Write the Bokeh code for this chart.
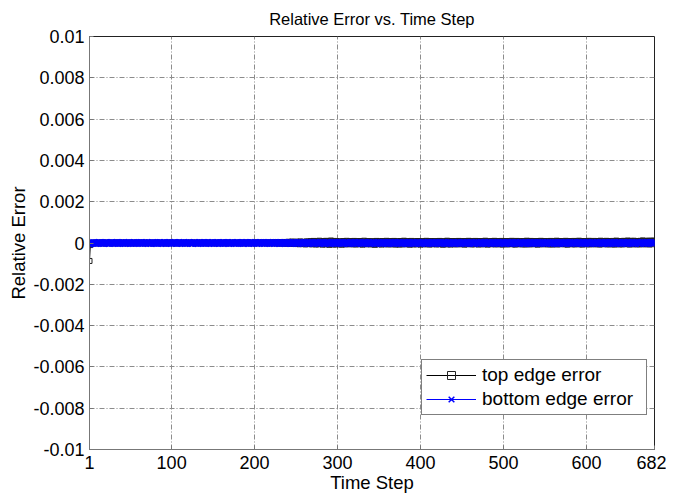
from bokeh.plotting import figure
from bokeh.models import Range1d, FixedTicker, CustomJSTickFormatter, Legend, LegendItem
from bokeh.embed import file_html
from bokeh.resources import INLINE

# ---- data: top edge error (units of 5e-6), bottom edge error (units of 1e-5) ----
top_edge = [
    -174, -20, -4, 2, -3, 1, -2, 3, 0, -1, 2, -3, 1, 4, -2, 0, 3, -1, 2, -4,
    1, 3, -2, 0, 4, -1, 2, -3, 1, 0, -2, 3, 5, -1, 0, 2, -3, 1, -2, 4,
    0, -1, 3, -2, 1, 2, -4, 0, 3, -1, 2, 0, -3, 1, 4, -2, 1, 0, -1, 3,
    -2, 1, 0, 3, -1, 2, -3, 4, 0, -2, 1, 3, -1, 0, 2, -4, 1, 3, -2, 0,
    2, -1, 4, 0, -3, 1, 2, -2, 0, 3, -1, 1, -4, 2, 0, 3, -2, 1, 4, -1,
    0, 2, -3, 1, 3, -2, 0, 4, -1, 2, -3, 0, 1, 3, -2, 2, 0, -1, 4, -3,
    1, 0, 3, -2, 2, -1, 4, 0, -3, 1, 2, -2, 3, 0, -1, 4, -2, 1, 0, 3,
    -1, 2, -3, 1, 4, 0, -2, 3, 1, -1, 0, 2, -4, 3, 1, -2, 0, 4, -1, 2,
    -3, 0, 2, 1, -2, 4, 0, -1, 3, -3, 1, 2, 0, -2, 4, 1, -1, 3, 0, -2,
    2, -1, 4, 0, -3, 2, 1, -2, 3, 0, -1, 5, -2, 1, 3, -4, 0, 2, -1, 4,
    1, -3, 2, 0, 5, -2, 3, -1, 0, 4, -3, 2, 1, -2, 6, 0, -4, 3, 1, -1,
    5, -3, 2, 7, -2, 0, 6, -5, 3, 8, -4, 2, 9, -6, 4, 10, -3, 7, -8, 5,
    12, -6, 8, -9, 14, -4, 6, 11, -10, 5, 13, -7, 9, -12, 15, -5, 8, 12, -9, 6,
    -14, 10, 16, -8, 13, -11, 7, 18, -13, 11, 20, -9, 14, -15, 17, 9, -12, 22, -7, 15,
    11, -16, 19, 8, -13, 21, -10, 14, 17, -18, 12, 24, -11, 16, -14, 20, 9, -15, 18, -9,
    13, -12, 16, 10, -17, 14, 19, -8, 12, -14, 21, 11, -10, 15, 18, -13, 9, 16, -11, 20,
    12, -15, 17, 10, -9, 14, 19, -12, 13, -16, 15, 22, -10, 11, -13, 18, 14, -9, 16, -14,
    10, 17, -11, 15, -18, 12, 20, -9, 14, -12, 16, 11, -15, 19, 13, -10, 17, -13, 21, 9,
    -12, 15, 18, -14, 11, 16, -9, 20, 12, -16, 14, 17, -11, 13, -15, 19, 10, -12, 16, 22,
    -13, 11, 18, -10, 15, 12, -17, 14, 20, -9, 13, -14, 16, 11, -12, 19, 15, -11, 17, -16,
    12, 18, -10, 14, -13, 16, 21, -11, 13, 17, -15, 10, 19, -12, 15, -9, 14, 18, -14, 11,
    16, -12, 20, 13, -10, 15, -17, 12, 18, -11, 14, 22, -13, 10, 17, -15, 13, 19, -9, 16,
    -14, 12, 18, -11, 15, 20, -13, 11, 16, -10, 14, 19, -16, 12, 17, -12, 15, 21, -10, 13,
    18, -14, 11, 16, -12, 20, 14, -9, 17, -15, 13, 19, -11, 15, 12, -13, 18, 22, -10, 14,
    -16, 11, 17, 13, -12, 19, -10, 15, 21, -14, 12, 16, -11, 18, 14, -13, 10, 20, -15, 17,
    12, -11, 19, 15, -14, 13, 18, -10, 16, 21, -12, 11, 17, -16, 14, 20, -9, 13, 18, -13,
    15, 11, -12, 19, 14, -15, 17, 22, -11, 12, 16, -14, 20, 13, -10, 18, 15, -12, 11, 19,
    -16, 14, 17, -11, 21, 12, -13, 16, 19, -10, 15, 13, -14, 18, 11, -12, 20, 16, -15, 14,
    17, -11, 13, 22, -14, 15, 19, -12, 12, 16, -10, 18, 14, -13, 21, 11, -16, 17, 15, -11,
    19, 13, -12, 16, 20, -14, 11, 18, -10, 15, 22, -13, 12, 17, -15, 14, 19, -11, 16, 13,
    -12, 18, 21, -14, 15, 12, -10, 17, 20, -13, 14, 16, -11, 19, 13, -15, 22, 12, -12, 18,
    15, -10, 17, 21, -14, 13, 19, -12, 16, 11, -13, 20, 14, -15, 18, 23, -11, 15, 17, -13,
    12, 19, -14, 16, 21, -10, 14, 18, -12, 24, 13, -15, 17, 20, -11, 15, 22, -13, 18, 14,
    -12, 19, 16, -14, 21, 13, -10, 25, 17, -13, 15, 20, -11, 18, 23, -14, 16, 21, -12, 19,
    24, 14,
]

bottom_edge = [
    -5, -2, 1, 0, -1, 2, 0, 1, -2, 0, 1, -1, 2, 0, -1, 1, 0, -2, 1, 0,
    2, -1, 0, 1, -2, 0, 1, 2, -1, 0, -1, 1, 0, 2, -2, 1, 0, -1, 1, 0,
    -1, 2, 0, -2, 1, 0, 1, -1, 2, 0, -1, 0, 1, -2, 2, 0, -1, 1, 0, 1,
    0, -1, 2, 1, -2, 0, 1, 0, -1, 2, 0, -1, 1, 0, -2, 1, 2, 0, -1, 0,
    1, 0, -2, 1, 0, 2, -1, 0, 1, -1, 2, 0, -2, 1, 0, 1, -1, 2, 0, -1,
    0, 1, -1, 2, 0, -2, 1, 0, 2, -1, 0, 1, -1, 0, 2, -2, 1, 0, -1, 1,
    2, 0, -1, 1, -2, 0, 2, 1, -1, 0, 1, -2, 0, 2, -1, 1, 0, -1, 2, 0,
    -2, 1, 0, 2, -1, 0, 1, -1, 2, 0, -2, 1, 0, 1, -1, 2, 0, -1, 0, 1,
    1, -2, 2, 0, -1, 1, 0, 2, -2, 0, 1, -1, 2, 0, -1, 0, 1, -2, 1, 2,
    0, -1, 1, 0, 2, -2, 0, 1, -1, 2, 0, 1, -2, 0, 2, -1, 1, 0, -1, 1,
    2, 0, -2, 1, 0, -1, 2, 1, -1, 0, 2, -2, 0, 1, -1, 2, 0, -1, 1, 0,
    -1, 2, 0, -2, 1, 2, -1, 0, 1, -2, 2, 0, -1, 1, 0, 2, -2, 1, 0, -1,
    2, 0, 1, -2, 0, 2, -1, 1, 0, -1, 2, -2, 0, 1, 2, -1, 0, 1, -2, 2,
    0, -1, 1, 2, -2, 0, 1, -1, 2, 0, -2, 1, 0, 2, -1, 1, 0, -2, 2, 0,
    1, -1, 2, 0, -2, 1, 0, 2, -1, 1, -2, 0, 2, 1, -1, 0, 2, -2, 1, 0,
    -1, 2, 0, 1, -2, 2, 0, -1, 1, 0, 2, -1, 0, -2, 1, 2, 0, -1, 1, 0,
    2, -2, 0, 1, -1, 2, 0, 1, -2, 0, 1, -1, 2, 0, -1, 1, 0, 2, -2, 1,
    0, -1, 2, 1, -2, 0, 1, -1, 0, 2, -1, 1, 0, -2, 2, 0, 1, -1, 0, 2,
    -2, 1, 0, 2, -1, 0, 1, -2, 2, 0, -1, 1, 0, 2, -1, 0, 1, -2, 1, 0,
    2, -1, 0, 1, -2, 2, 0, -1, 1, 0, 2, -2, 1, 0, -1, 2, 0, 1, -1, 0,
    -2, 1, 2, 0, -1, 1, 0, -2, 2, 0, 1, -1, 0, 2, -2, 1, 0, -1, 2, 0,
    1, -1, 0, 2, -2, 0, 1, 2, -1, 0, 1, -2, 0, 2, -1, 1, 0, -1, 2, 0,
    -2, 1, 0, 1, -1, 2, 0, -2, 1, 0, 2, -1, 1, 0, -2, 2, 0, 1, -1, 0,
    2, 0, -1, 1, -2, 0, 2, 1, -1, 0, 1, -2, 2, 0, -1, 1, 0, 2, -2, 0,
    1, -1, 2, 0, -2, 1, 0, 2, -1, 0, 1, -1, 2, 0, -2, 1, 0, 1, -1, 2,
    0, -2, 1, 0, 2, -1, 1, 0, -2, 2, 0, 1, -1, 0, 2, -2, 1, 0, -1, 1,
    2, 0, -1, 1, 0, -2, 2, 0, 1, -1, 0, 2, -2, 1, 0, -1, 2, 0, 1, -1,
    0, 2, -2, 1, 0, -1, 2, 0, -1, 1, 0, -2, 2, 1, -1, 0, 1, -2, 0, 2,
    -1, 1, 0, 2, -2, 0, 1, -1, 2, 0, -1, 1, 0, -2, 2, 0, 1, -1, 0, 2,
    -2, 1, 0, 1, -1, 2, 0, -2, 1, 0, 2, -1, 0, 1, -2, 2, 0, -1, 1, 0,
    2, -1, 1, 0, -2, 0, 2, 1, -1, 0, 1, -2, 2, 0, -1, 1, 0, 2, -2, 1,
    0, -1, 2, 0, 1, -2, 0, 2, -1, 1, 0, -1, 2, 0, -2, 1, 0, 1, -1, 2,
    0, -2, 1, 0, 2, -1, 1, 0, -2, 2, 0, 1, -1, 0, 2, -2, 1, 0, -1, 1,
    2, 0, -1, 1, -2, 0, 2, 1, -1, 0, 1, -2, 2, 0, -1, 1, 0, 2, -1, 0,
    1, 2,
]

TOP_UNIT = 5e-6
BOTTOM_UNIT = 1e-5
x_ticks = [1, 100, 200, 300, 400, 500, 600, 682]
y_ticks = [-0.01, -0.008, -0.006, -0.004, -0.002, 0, 0.002, 0.004, 0.006, 0.008, 0.01]

steps_top = list(range(1, len(top_edge) + 1))
steps_bot = list(range(1, len(bottom_edge) + 1))
top_vals = [v * TOP_UNIT for v in top_edge]
bot_vals = [v * BOTTOM_UNIT for v in bottom_edge]

FONT = "Liberation Sans"

p = figure(width=666, height=496, output_backend="svg", toolbar_location=None,
           x_range=Range1d(1, 682), y_range=Range1d(-0.01, 0.01),
           title="Relative Error vs. Time Step",
           min_border_left=89, min_border_right=12, min_border_top=36, min_border_bottom=47)

p.title.align = "center"
p.title.vertical_align = "top"
p.title.text_font = FONT
p.title.text_font_size = "16.5px"
p.title.text_font_style = "normal"
p.title.text_color = "black"
p.title.standoff = 14

p.background_fill_color = "white"
p.border_fill_color = "white"
p.outline_line_color = "#222222"
p.outline_line_width = 1

for ax in (p.xaxis[0], p.yaxis[0]):
    ax.axis_line_color = "#777777"
    ax.major_tick_in = 4
    ax.major_tick_out = 0
    ax.minor_tick_line_color = None
    ax.major_tick_line_color = "#777777"
    ax.major_label_text_font = FONT
    ax.major_label_text_font_size = "18px"
    ax.major_label_text_color = "black"
    ax.axis_label_text_font = FONT
    ax.axis_label_text_font_size = "18.5px"
    ax.axis_label_text_font_style = "normal"
    ax.axis_label_text_color = "black"

p.xaxis.ticker = FixedTicker(ticks=x_ticks)
p.yaxis.ticker = FixedTicker(ticks=y_ticks)
p.yaxis.formatter = CustomJSTickFormatter(code="""
    let s = tick.toFixed(3).replace(/0+$/, '').replace(/\\.$/, '');
    if (s === '-0') s = '0';
    return s;
""")
p.xaxis.axis_label = "Time Step"
p.yaxis.axis_label = "Relative Error"
p.xaxis.major_label_standoff = 6
p.yaxis.major_label_standoff = 5
p.xaxis.axis_label_standoff = 0
p.yaxis.axis_label_standoff = 1

p.xgrid.ticker = FixedTicker(ticks=x_ticks)
p.ygrid.ticker = FixedTicker(ticks=y_ticks)
for g in (p.xgrid[0], p.ygrid[0]):
    g.grid_line_color = "#8c8c8c"
    g.grid_line_dash = "5 2 1 2"
    g.grid_line_width = 1

r1 = p.line(steps_top, top_vals, line_color="black", line_width=1)
r2 = p.scatter(steps_top, top_vals, marker="square", size=5, fill_color=None,
               line_color="#222222", line_width=1)
r3 = p.line(steps_bot, bot_vals, line_color="blue", line_width=1)
r4 = p.scatter(steps_bot, bot_vals, marker="x", size=9, line_color="blue", line_width=1.5)

legend = Legend(items=[LegendItem(label="top edge error", renderers=[r1, r2]),
                       LegendItem(label="bottom edge error", renderers=[r3, r4])],
                location=(332, 34))
legend.label_text_font = FONT
legend.label_text_font_size = "19px"
legend.label_text_color = "black"
legend.border_line_color = "black"
legend.border_line_width = 1
legend.background_fill_alpha = 1
legend.padding = 4
legend.spacing = 2
legend.margin = 0
legend.glyph_width = 50
legend.glyph_height = 20
legend.label_height = 20
legend.label_width = 160
legend.label_standoff = 6
p.add_layout(legend, "center")

open("out.html", "w").write(file_html(p, INLINE))
